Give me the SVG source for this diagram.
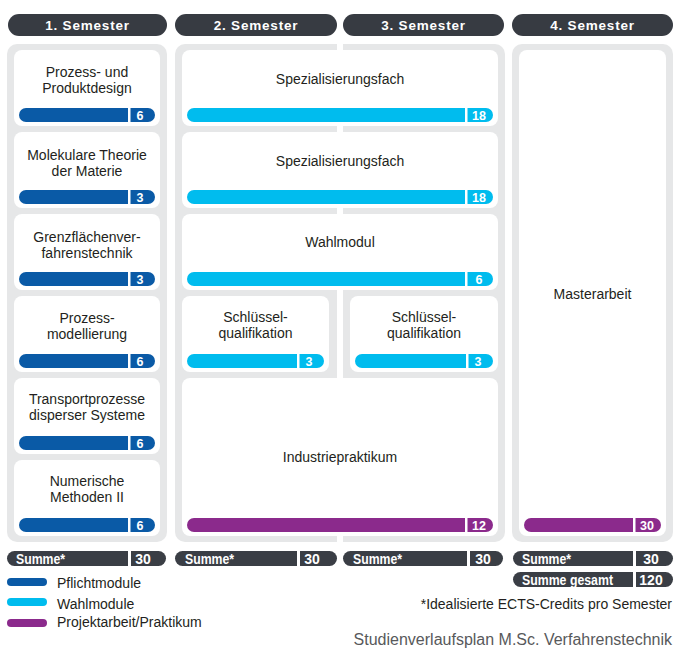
<svg xmlns="http://www.w3.org/2000/svg" width="685" height="662" viewBox="0 0 685 662">
<style>
.hdr{fill:#373b42}
.hdrt{fill:#fff;font-family:"Liberation Sans",Arial,sans-serif;font-weight:bold;font-size:13.5px;letter-spacing:0.8px;text-anchor:middle}
.panel{fill:#e6e7e8}
.card{fill:#fff}
.lbl{fill:#231f20;font-family:"Liberation Sans",Arial,sans-serif;font-size:14px;text-anchor:middle}
.pf{fill:#0a5aa6}
.wm{fill:#00bcee}
.pr{fill:#8b2a8c}
.sep{fill:#fff}
.num{fill:#fff;font-family:"Liberation Sans",Arial,sans-serif;font-weight:bold;font-size:12.5px;text-anchor:middle}
.sum{fill:#3a3e45}
.sumt{fill:#fff;font-family:"Liberation Sans",Arial,sans-serif;font-weight:bold;font-size:14px}
.leg{fill:#231f20;font-family:"Liberation Sans",Arial,sans-serif;font-size:14px}
</style>
<rect width="685" height="662" fill="#fff"/>

<g id="headers">
<rect class="hdr" x="8" y="14" width="159" height="22" rx="11"/>
<text class="hdrt" x="87.5" y="30">1. Semester</text>
<rect class="hdr" x="175" y="14" width="162" height="22" rx="11"/>
<text class="hdrt" x="256" y="30">2. Semester</text>
<rect class="hdr" x="343" y="14" width="161" height="22" rx="11"/>
<text class="hdrt" x="423.5" y="30">3. Semester</text>
<rect class="hdr" x="512" y="14" width="161" height="22" rx="11"/>
<text class="hdrt" x="592.5" y="30">4. Semester</text>
</g>

<g id="panels">
<rect class="panel" x="7" y="44" width="160" height="498" rx="10"/>
<path class="panel" d="M185 44 H337 V542 H185 A10 10 0 0 1 175 532 V54 A10 10 0 0 1 185 44 Z"/>
<path class="panel" d="M343 44 H495 A10 10 0 0 1 505 54 V532 A10 10 0 0 1 495 542 H343 Z"/>
<rect class="panel" x="512" y="44" width="161" height="498" rx="10"/>
</g>

<g id="n1">
<rect class="card" x="14" y="50" width="146" height="76" rx="8"/>
<text class="lbl" x="87" y="77">Prozess- und</text>
<text class="lbl" x="87" y="93">Produktdesign</text>
<rect class="pf" x="19" y="108" width="136" height="14" rx="7"/><rect class="sep" x="128" y="108" width="2.5" height="14"/>
<text class="num" x="140" y="120">6</text>
</g>
<g id="n2">
<rect class="card" x="14" y="132" width="146" height="76" rx="8"/>
<text class="lbl" x="87" y="160">Molekulare Theorie</text>
<text class="lbl" x="87" y="176">der Materie</text>
<rect class="pf" x="19" y="190" width="136" height="14" rx="7"/><rect class="sep" x="128" y="190" width="2.5" height="14"/>
<text class="num" x="140" y="202">3</text>
</g>
<g id="n3">
<rect class="card" x="14" y="214" width="146" height="76" rx="8"/>
<text class="lbl" x="87" y="242">Grenzflächenver-</text>
<text class="lbl" x="87" y="258">fahrenstechnik</text>
<rect class="pf" x="19" y="272" width="136" height="14" rx="7"/><rect class="sep" x="128" y="272" width="2.5" height="14"/>
<text class="num" x="140" y="284">3</text>
</g>
<g id="n4">
<rect class="card" x="14" y="296" width="146" height="76" rx="8"/>
<text class="lbl" x="87" y="323">Prozess-</text>
<text class="lbl" x="87" y="339">modellierung</text>
<rect class="pf" x="19" y="354" width="136" height="14" rx="7"/><rect class="sep" x="128" y="354" width="2.5" height="14"/>
<text class="num" x="140" y="366">6</text>
</g>
<g id="n5">
<rect class="card" x="14" y="378" width="146" height="76" rx="8"/>
<text class="lbl" x="87" y="404">Transportprozesse</text>
<text class="lbl" x="87" y="420">disperser Systeme</text>
<rect class="pf" x="19" y="436" width="136" height="14" rx="7"/><rect class="sep" x="128" y="436" width="2.5" height="14"/>
<text class="num" x="140" y="448">6</text>
</g>
<g id="n6">
<rect class="card" x="14" y="460" width="146" height="76" rx="8"/>
<text class="lbl" x="87" y="486">Numerische</text>
<text class="lbl" x="87" y="502">Methoden II</text>
<rect class="pf" x="19" y="518" width="136" height="14" rx="7"/><rect class="sep" x="128" y="518" width="2.5" height="14"/>
<text class="num" x="140" y="530">6</text>
</g>

<g id="n7">
<rect class="card" x="182" y="50" width="316" height="76" rx="8"/>
<text class="lbl" x="340" y="84">Spezialisierungsfach</text>
<rect class="wm" x="187" y="108" width="306" height="14" rx="7"/><rect class="sep" x="465" y="108" width="2.5" height="14"/>
<text class="num" x="479" y="120">18</text>
</g>
<g id="n8">
<rect class="card" x="182" y="132" width="316" height="76" rx="8"/>
<text class="lbl" x="340" y="166">Spezialisierungsfach</text>
<rect class="wm" x="187" y="190" width="306" height="14" rx="7"/><rect class="sep" x="465" y="190" width="2.5" height="14"/>
<text class="num" x="479" y="202">18</text>
</g>
<g id="n9">
<rect class="card" x="182" y="214" width="316" height="76" rx="8"/>
<text class="lbl" x="340" y="247">Wahlmodul</text>
<rect class="wm" x="187" y="272" width="306" height="14" rx="7"/><rect class="sep" x="465" y="272" width="2.5" height="14"/>
<text class="num" x="479" y="284">6</text>
</g>
<g id="n10">
<rect class="card" x="182" y="296" width="147" height="76" rx="8"/>
<text class="lbl" x="255.5" y="322">Schlüssel-</text>
<text class="lbl" x="255.5" y="338">qualifikation</text>
<rect class="wm" x="187" y="354" width="137" height="14" rx="7"/><rect class="sep" x="297" y="354" width="2.5" height="14"/>
<text class="num" x="309" y="366">3</text>
</g>
<g id="n11">
<rect class="card" x="350" y="296" width="148" height="76" rx="8"/>
<text class="lbl" x="424" y="322">Schlüssel-</text>
<text class="lbl" x="424" y="338">qualifikation</text>
<rect class="wm" x="355" y="354" width="138" height="14" rx="7"/><rect class="sep" x="466" y="354" width="2.5" height="14"/>
<text class="num" x="478" y="366">3</text>
</g>
<g id="n12">
<rect class="card" x="182" y="378" width="316" height="158" rx="8"/>
<text class="lbl" x="340" y="462">Industriepraktikum</text>
<rect class="pr" x="187" y="518" width="306" height="14" rx="7"/><rect class="sep" x="465" y="518" width="2.5" height="14"/>
<text class="num" x="479" y="530">12</text>
</g>
<g id="n13">
<rect class="card" x="519" y="50" width="147" height="486" rx="8"/>
<text class="lbl" x="592.5" y="299">Masterarbeit</text>
<rect class="pr" x="524" y="518" width="137" height="14" rx="7"/><rect class="sep" x="633" y="518" width="2.5" height="14"/>
<text class="num" x="647" y="530">30</text>
</g>

<g id="sums">
<rect class="sum" x="7" y="551" width="159" height="15" rx="7.5"/><rect class="sep" x="128" y="551" width="3" height="15"/>
<text class="sumt" x="16" y="564" textLength="49" lengthAdjust="spacingAndGlyphs">Summe*</text>
<text class="sumt" x="143" y="564" text-anchor="middle">30</text>
<rect class="sum" x="175" y="551" width="162" height="15" rx="7.5"/><rect class="sep" x="297" y="551" width="3" height="15"/>
<text class="sumt" x="185" y="564" textLength="49" lengthAdjust="spacingAndGlyphs">Summe*</text>
<text class="sumt" x="312" y="564" text-anchor="middle">30</text>
<rect class="sum" x="343" y="551" width="160" height="15" rx="7.5"/><rect class="sep" x="467" y="551" width="3" height="15"/>
<text class="sumt" x="353" y="564" textLength="49" lengthAdjust="spacingAndGlyphs">Summe*</text>
<text class="sumt" x="483" y="564" text-anchor="middle">30</text>
<rect class="sum" x="513" y="551" width="160" height="15" rx="7.5"/><rect class="sep" x="633" y="551" width="3" height="15"/>
<text class="sumt" x="522" y="564" textLength="49" lengthAdjust="spacingAndGlyphs">Summe*</text>
<text class="sumt" x="651" y="564" text-anchor="middle">30</text>
<rect class="sum" x="513" y="572" width="160" height="15" rx="7.5"/><rect class="sep" x="633" y="572" width="3" height="15"/>
<text class="sumt" x="522" y="585" textLength="91" lengthAdjust="spacingAndGlyphs">Summe gesamt</text>
<text class="sumt" x="651" y="585" text-anchor="middle">120</text>
</g>

<g id="legend">
<rect class="pf" x="7" y="578" width="40" height="8" rx="4"/>
<text class="leg" x="57" y="588">Pflichtmodule</text>
<rect class="wm" x="7" y="598" width="40" height="8" rx="4"/>
<text class="leg" x="57" y="609">Wahlmodule</text>
<rect class="pr" x="7" y="619" width="40" height="8" rx="4"/>
<text class="leg" x="57" y="627">Projektarbeit/Praktikum</text>
</g>

<text class="leg" x="672" y="609" text-anchor="end">*Idealisierte ECTS-Credits pro Semester</text>
<text x="672" y="645" text-anchor="end" fill="#58595b" font-family="Liberation Sans, Arial, sans-serif" font-size="16">Studienverlaufsplan M.Sc. Verfahrenstechnik</text>
</svg>
